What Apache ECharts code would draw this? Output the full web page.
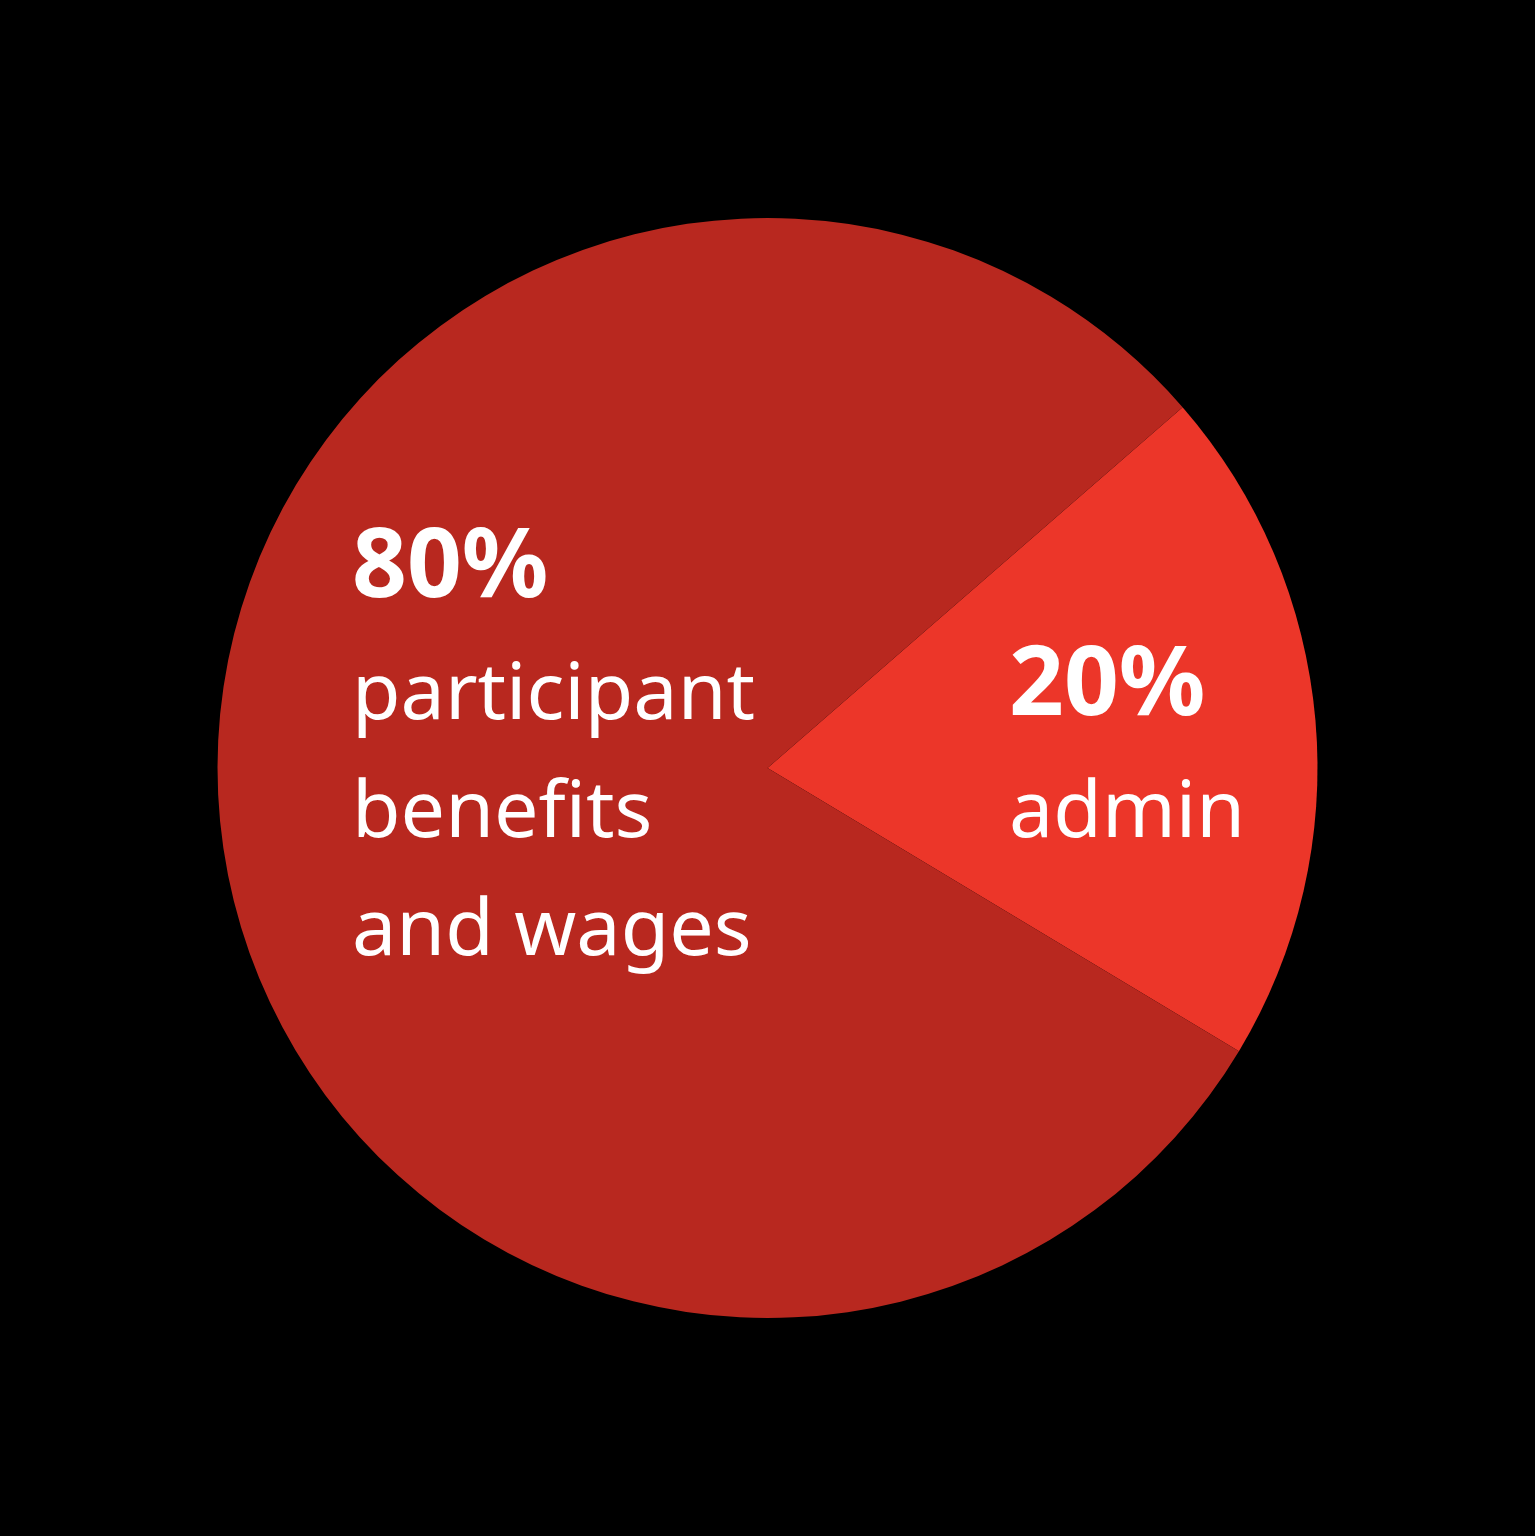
<!DOCTYPE html>
<html>
<head>
<meta charset="utf-8">
<style>
html,body{margin:0;padding:0;background:#000;}
#chart{width:1535px;height:1536px;}
</style>
<script src="https://cdn.jsdelivr.net/npm/echarts@6/dist/echarts.min.js"></script>
</head>
<body>
<div id="chart"></div>
<script>
const categories = ['admin', 'participant\nbenefits\nand wages'];
const values = [20, 80];
const percentLabels = ['20%', '80%'];
const sliceColors = ['#EC3629', '#B8281F'];

const chart = echarts.init(document.getElementById('chart'));
const labelPos = [
  {x: 1009, y: 621},
  {x: 352, y: 503}
];
chart.setOption({
  backgroundColor: '#000000',
  animation: false,
  series: [{
    type: 'pie',
    center: ['50%', '50%'],
    radius: 550,
    startAngle: 41,
    clockwise: true,
    silent: true,
    data: categories.map((c, i) => ({
      name: c,
      value: values[i],
      itemStyle: {color: sliceColors[i]}
    })),
    labelLine: {show: false},
    label: {
      show: true,
      position: 'inside',
      formatter: p => '{pct|' + percentLabels[p.dataIndex] + '}\n' +
        p.name.split('\n').map(s => '{txt|' + s + '}').join('\n'),
      align: 'left',
      rich: {
        pct: {fontFamily: 'Noto Sans', fontWeight: 'bold', fontSize: 96, color: '#fff', lineHeight: 134, align: 'left'},
        txt: {fontFamily: 'Noto Sans', fontWeight: 'normal', fontSize: 79, color: '#fff', lineHeight: 118, align: 'left'}
      }
    },
    labelLayout: function (params) {
      const pos = labelPos[params.dataIndex];
      return {x: pos.x, y: pos.y, align: 'left', verticalAlign: 'top'};
    }
  }]
});
</script>
</body>
</html>
